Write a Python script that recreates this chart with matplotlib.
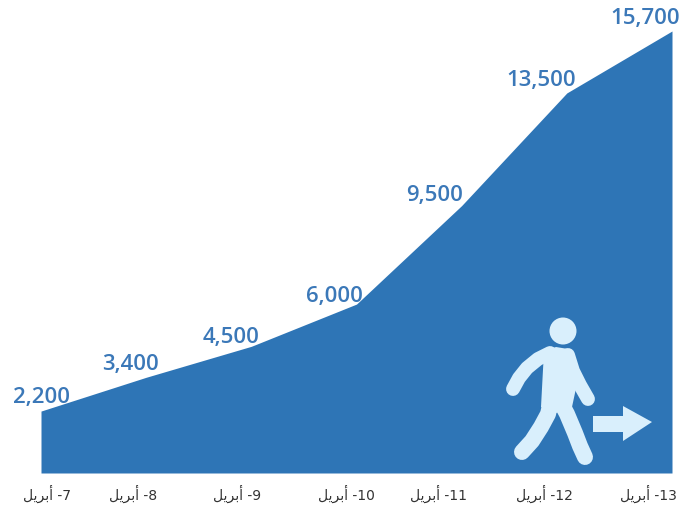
import matplotlib
matplotlib.use("Agg")
import matplotlib.pyplot as plt
from matplotlib.patches import Circle, Polygon

days = [7, 8, 9, 10, 11, 12, 13]
month = "\ufede\ufef3\ufeae\ufe91\ufe83"  # April, presentation forms in visual order
cases = [2200, 3400, 4500, 6000, 9500, 13500, 15700]

blue = "#2e75b6"
label_blue = "#3b78b8"
pale = "#d9effc"

fig = plt.figure(figsize=(6.81, 5.10), dpi=100)
ax = fig.add_axes([41 / 681, 36 / 510, 631 / 681, 442 / 510])
x = list(range(len(days)))
ax.fill_between(x, cases, 0, color=blue, lw=0)
ax.set_xlim(0, 6)
ax.set_ylim(0, 15700)
ax.axis("off")

# value labels sit up and to the left of each point
label_dx = [0, -16, -20, -22, -27, -26, -27]
label_dy = [15, 14, 10, 9, 11, 13, 14]
for i in x:
    ax.annotate(f"{cases[i]:,}", (i, cases[i]),
                xytext=(label_dx[i] * 0.72, label_dy[i] * 0.72),
                textcoords="offset points", ha="center", va="center",
                fontfamily="Open Sans", fontweight="semibold", fontsize=16,
                color=label_blue, annotation_clip=False)

# date labels under the area
tick_dx = [6, -13, -14, -10, -23, -22, -24]
for i in x:
    ax.annotate(f"{month} -{days[i]}", (i, 0),
                xytext=(tick_dx[i] * 0.72, -14.5),
                textcoords="offset points", ha="center", va="center",
                fontsize=10, color="#333333", annotation_clip=False)

# walking figure and arrow, in pixel coordinates
icon = fig.add_axes([0, 0, 1, 1], facecolor="none")
icon.set_xlim(0, 681)
icon.set_ylim(510, 0)
icon.axis("off")
icon.add_patch(Circle((563, 332), 13.5, color=pale, lw=0))
icon.add_patch(Polygon([(544, 352), (556, 348), (568, 350), (578, 380), (572, 408),
                        (556, 414), (541, 408)], closed=True, color=pale, lw=0))
limbs = [
    ([513, 519, 527, 538, 550], [390, 379, 369, 360, 354], 10),
    ([568, 573, 580, 588], [356, 372, 386, 400], 10),
    ([552, 548, 541, 532, 522], [398, 415, 428, 442, 453], 11.5),
    ([558, 567, 575, 580, 585], [398, 415, 434, 447, 458], 11.5),
]
for xs, ys, width in limbs:
    icon.plot(xs, ys, color=pale, lw=width, solid_capstyle="round", solid_joinstyle="round")
icon.add_patch(Polygon([(593, 417), (623, 417), (623, 407), (652, 423), (623, 442),
                        (623, 433), (593, 433)], closed=True, color=pale, lw=0))

fig.savefig("out.png", dpi=100)
